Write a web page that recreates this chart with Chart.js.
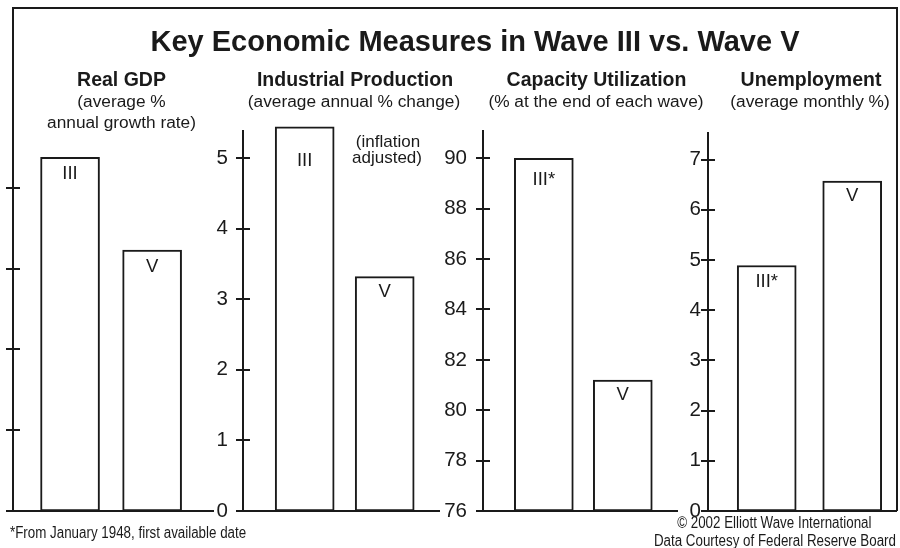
<!DOCTYPE html>
<html><head><meta charset="utf-8">
<script src="https://cdn.jsdelivr.net/npm/chart.js"></script>
<style>
html,body{margin:0;padding:0;background:#fff;}
#wrap{position:relative;width:900px;height:548px;overflow:hidden;background:#fff;font-family:"Liberation Sans",Arial,Helvetica,sans-serif;color:#1a1a1a;}
#frame{position:absolute;left:12px;top:7px;width:884px;height:502px;border-top:2px solid #1a1a1a;border-right:2px solid #1a1a1a;}
canvas{position:absolute;top:0;}
.t{position:absolute;white-space:nowrap;text-align:center;}
.t span{display:inline-block;}
</style></head><body><div id="wrap"><div id="frame"></div></div>
<script>
// ---------- data ----------
const waveCategories = ['III', 'V'];

const gdpValues = [4.38, 3.23];
const gdpBarLabels = ['III', 'V'];
const gdpTicks = [0, 1, 2, 3, 4];

const indProdValues = [5.44, 3.32];
const indProdBarLabels = ['III', 'V'];
const indProdTicks = [0, 1, 2, 3, 4, 5];

const capUtilValues = [90.0, 81.2];
const capUtilBarLabels = ['III*', 'V'];
const capUtilTicks = [76, 78, 80, 82, 84, 86, 88, 90];

const unempValues = [4.89, 6.57];
const unempBarLabels = ['III*', 'V'];
const unempTicks = [0, 1, 2, 3, 4, 5, 6, 7];

// ---------- layout / style ----------
const INK = '#1a1a1a';
const FONT = '"Liberation Sans", Arial, Helvetica, sans-serif';
const BASE = 511;      // baseline pixel row
const H = 548;

const panels = [
  {values: gdpValues, labels: gdpBarLabels, ticks: gdpTicks, showTickLabels: false,
   axisX: 13, rightX: 214, top: 8, yMin: 0, yMax: 6.229, xMin: 0.305, xMax: 2.754, yW: 13, pad: 10, labelOffsets: [8, 9]},
  {values: indProdValues, labels: indProdBarLabels, ticks: indProdTicks, showTickLabels: true,
   axisX: 243, rightX: 440, top: 131, yMin: 0, yMax: 5.382, xMin: 0.229, xMax: 2.691, yW: 50, pad: 15, labelOffsets: [26, 7]},
  {values: capUtilValues, labels: capUtilBarLabels, ticks: capUtilTicks, showTickLabels: true,
   axisX: 483, rightX: 678, top: 131, yMin: 76, yMax: 91.085, xMin: 0.23, xMax: 2.699, yW: 50, pad: 16, labelOffsets: [13, 7]},
  {values: unempValues, labels: unempBarLabels, ticks: unempTicks, showTickLabels: true,
   axisX: 708, rightX: 897, top: 133, yMin: 0, yMax: 7.53, xMin: 0.313, xMax: 2.524, yW: 50, pad: 7, labelOffsets: [8, 7]}
];

const wrap = document.getElementById('wrap');

panels.forEach((p, idx) => {
  const c = document.createElement('canvas');
  const left = p.axisX - p.yW;
  const w = p.rightX - left;
  c.width = w; c.height = H;
  c.style.left = left + 'px';
  c.style.width = w + 'px'; c.style.height = H + 'px';
  wrap.appendChild(c);

  const crossTicks = {
    id: 'crossTicks' + idx,
    afterDraw(chart) {
      const s = chart.scales.y, a = chart.chartArea, ctx = chart.ctx;
      ctx.save();
      ctx.strokeStyle = INK; ctx.lineWidth = 2;
      s.ticks.forEach(t => {
        const py = Math.round(s.getPixelForValue(t.value));
        ctx.beginPath();
        ctx.moveTo(a.left - 7, py); ctx.lineTo(a.left + 7, py);
        ctx.stroke();
      });
      ctx.restore();
    }
  };
  const barText = {
    id: 'barText' + idx,
    afterDatasetsDraw(chart) {
      const meta = chart.getDatasetMeta(0), ctx = chart.ctx;
      const F = 18.5;
      ctx.save();
      ctx.fillStyle = INK;
      ctx.font = F + 'px ' + FONT;
      ctx.textAlign = 'center';
      ctx.textBaseline = 'alphabetic';
      meta.data.forEach((el, i) => {
        ctx.fillText(p.labels[i], el.x, el.y + p.labelOffsets[i] + 0.716 * F);
      });
      ctx.restore();
    }
  };

  new Chart(c, {
    type: 'bar',
    data: {
      labels: waveCategories,
      datasets: [{
        data: p.values.map((v, i) => ({x: i + 1, y: v})),
        base: p.yMin,
        backgroundColor: '#ffffff',
        borderColor: INK,
        borderWidth: 2,
        borderSkipped: false,
        barThickness: 59,
        clip: {left: false, top: false, right: false, bottom: 1}
      }]
    },
    options: {
      responsive: false,
      animation: false,
      devicePixelRatio: 1,
      layout: {padding: {left: 0, right: 0, top: p.top, bottom: H - BASE}},
      plugins: {legend: {display: false}, tooltip: {enabled: false}, title: {display: false}},
      scales: {
        x: {
          type: 'linear', min: p.xMin, max: p.xMax, offset: false,
          grid: {display: false, drawTicks: false},
          border: {display: true, color: INK, width: 2},
          ticks: {display: false},
          afterFit: s => { s.height = 0; }
        },
        y: {
          type: 'linear', min: p.yMin, max: p.yMax,
          afterBuildTicks: s => { s.ticks = p.ticks.map(v => ({value: v})); },
          afterFit: s => { s.width = p.yW; },
          grid: {display: false, drawTicks: false},
          border: {display: true, color: INK, width: 2},
          ticks: {
            display: p.showTickLabels,
            padding: p.pad, color: INK,
            font: {family: FONT, size: 20.5}
          }
        }
      }
    },
    plugins: [crossTicks, barText]
  });
});

// ---------- text ----------
function addText(text, cx, baseline, size, bold, opt) {
  opt = opt || {};
  const d = document.createElement('div');
  d.className = 't';
  const lh = size * 1.2;
  d.style.top = (baseline - 0.9465 * size) + 'px';
  d.style.lineHeight = lh + 'px';
  d.style.fontSize = size + 'px';
  d.style.fontWeight = bold ? 'bold' : 'normal';
  const sp = document.createElement('span');
  sp.textContent = text;
  if (opt.scaleX) { sp.style.transform = 'scaleX(' + opt.scaleX + ')'; }
  if (opt.leftAlign) {
    d.style.left = cx + 'px';
    d.style.textAlign = 'left';
    sp.style.transformOrigin = 'left center';
  } else {
    d.style.left = (cx - 450) + 'px';
    d.style.width = '900px';
    sp.style.transformOrigin = 'center center';
  }
  d.appendChild(sp);
  wrap.appendChild(d);
}

addText('Key Economic Measures in Wave III vs. Wave V', 475, 51.7, 29, true);

addText('Real GDP', 121.5, 86.7, 19.5, true);
addText('(average %', 121.5, 107.3, 17.3, false);
addText('annual growth rate)', 121.5, 128.5, 17.3, false);

addText('Industrial Production', 355, 86.7, 19.5, true);
addText('(average annual % change)', 354, 107.3, 17.3, false);
addText('(inflation', 388, 148, 17, false);
addText('adjusted)', 387, 164.5, 17, false);

addText('Capacity Utilization', 596.5, 86.7, 19.5, true);
addText('(% at the end of each wave)', 596, 107.3, 17.3, false);

addText('Unemployment', 811, 86.7, 19.5, true);
addText('(average monthly %)', 810, 107.3, 17.3, false);

addText('*From January 1948, first available date', 10, 537.7, 16, false, {scaleX: 0.835, leftAlign: true});
addText('\u00A9 2002 Elliott Wave International', 774, 528.3, 16, false, {scaleX: 0.835});
addText('Data Courtesy of Federal Reserve Board', 775, 546.5, 16, false, {scaleX: 0.835});
</script>
</body></html>
